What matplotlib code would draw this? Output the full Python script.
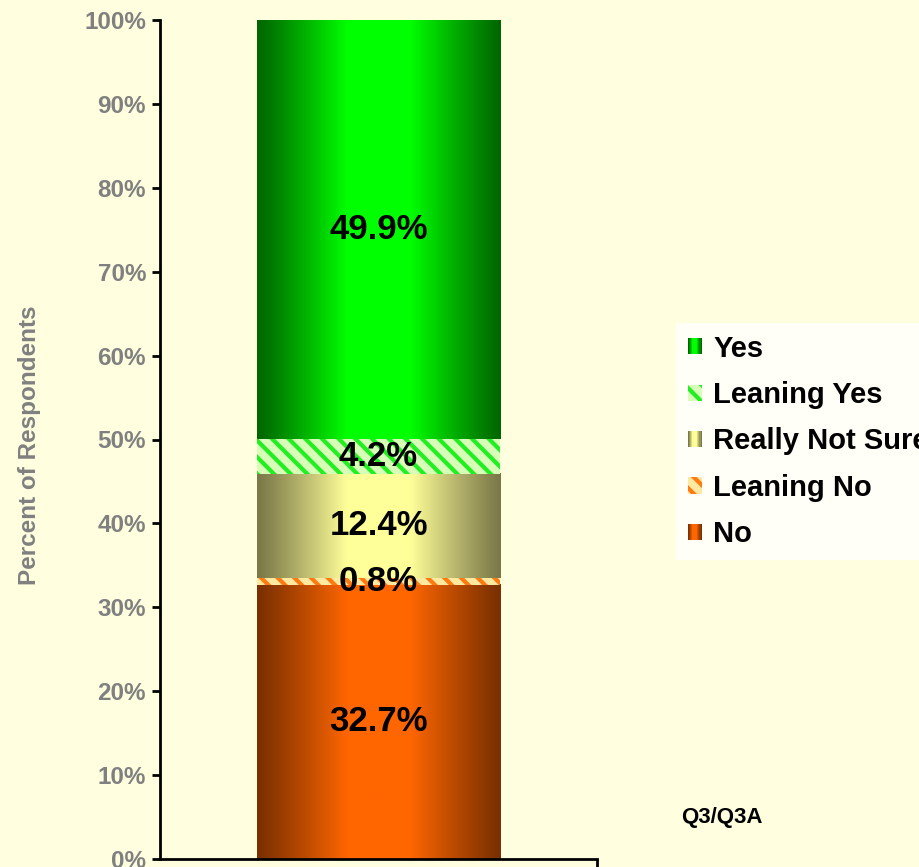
import numpy as np
import matplotlib
matplotlib.use("Agg")
import matplotlib.pyplot as plt
from matplotlib.patches import Patch, Rectangle
from matplotlib.legend_handler import HandlerBase
from matplotlib.colors import to_rgb

# data (bottom to top)
labels = ["No", "Leaning No", "Really Not Sure", "Leaning Yes", "Yes"]
values = [32.7, 0.8, 12.4, 4.2, 49.9]
value_text = ["32.7%", "0.8%", "12.4%", "4.2%", "49.9%"]
yticks = [0, 10, 20, 30, 40, 50, 60, 70, 80, 90, 100]

bg = "#FFFFDF"
grey = "#808080"
# (edge colour, centre colour) for gradient segments, (face, stripe) for hatched ones
styles = {
    "No": ("grad", "#7A3000", "#FF6600"),
    "Leaning No": ("hatch", "#FFE9A0", "#FF7A10"),
    "Really Not Sure": ("grad", "#7A7848", "#FFFF99"),
    "Leaning Yes": ("hatch", "#D8FFB8", "#22EE22"),
    "Yes": ("grad", "#006600", "#00FF00"),
}

plt.rcParams["font.family"] = ["Liberation Sans", "DejaVu Sans"]
plt.rcParams["font.weight"] = "bold"
plt.rcParams["hatch.linewidth"] = 3.0

fig = plt.figure(figsize=(9.19, 8.67), dpi=100, facecolor=bg)
ax = fig.add_axes([160 / 919, 8 / 867, 437 / 919, 839 / 867], facecolor=bg)

bar_w = 0.558
x0 = 0.0

def gradient(edge, centre, n=256):
    t = np.linspace(0, 1, n)
    f = 1 - np.abs(2 * t - 1)
    f = np.clip(f * 1.35, 0, 1) ** 1.1
    e = np.array(to_rgb(edge))
    c = np.array(to_rgb(centre))
    return (e[None, :] * (1 - f[:, None]) + c[None, :] * f[:, None])[None, :, :]

bottom = 0.0
for lab, v, txt in zip(labels, values, value_text):
    kind, a, b = styles[lab]
    if kind == "grad":
        ax.imshow(gradient(a, b), extent=(x0 - bar_w / 2, x0 + bar_w / 2, bottom, bottom + v),
                  aspect="auto", interpolation="bilinear", zorder=2)
    else:
        ax.bar(x0, v, width=bar_w, bottom=bottom, color=a, edgecolor=b,
               hatch="\\\\", linewidth=0, zorder=2)
    ax.text(x0, bottom + v / 2, txt, ha="center", va="center", fontsize=25,
            fontweight="bold", color="black", zorder=5)
    bottom += v

ax.set_xlim(-0.5, 0.5)
ax.set_ylim(0, 100)
ax.set_yticks(yticks)
ax.set_yticklabels([f"{t}%" for t in yticks], color=grey, fontsize=17.5, fontweight="bold")
ax.set_xticks([0.5])
ax.set_xticklabels([""])
ax.tick_params(axis="y", direction="out", length=6, width=2, pad=4)
ax.tick_params(axis="x", direction="out", length=8, width=2)
for s in ["top", "right"]:
    ax.spines[s].set_visible(False)
for s in ["left", "bottom"]:
    ax.spines[s].set_linewidth(2)

fig.text(30 / 919, 1 - 445 / 867, "Percent of Respondents", rotation=90, ha="center",
         va="center", color=grey, fontsize=17.5, fontweight="bold")
fig.text(722 / 919, 1 - 818 / 867, "Q3/Q3A", ha="center", va="center",
         fontsize=16, fontweight="bold", color="black")


class GradHandler(HandlerBase):
    def __init__(self, cols):
        super().__init__()
        self.cols = cols

    def create_artists(self, legend, orig_handle, xdescent, ydescent, width, height,
                       fontsize, trans):
        n = len(self.cols)
        return [Rectangle((-xdescent + i * width / n, -ydescent), width / n + 0.3, height,
                          facecolor=c, edgecolor="none", transform=trans)
                for i, c in enumerate(self.cols)]


handles = []
hmap = {}
for lab in labels[::-1]:
    kind, a, b = styles[lab]
    if kind == "grad":
        h = Patch(facecolor=b, edgecolor="none", label=lab)
        hmap[h] = GradHandler(gradient(a, b, 12)[0])
    else:
        h = Patch(facecolor=a, edgecolor=b, hatch="\\\\", linewidth=0, label=lab)
    handles.append(h)
leg = fig.legend(handles=handles, handler_map=hmap, loc="upper left",
                 bbox_to_anchor=(676 / 919, 1 - 323 / 867),
                 frameon=True, fancybox=False, facecolor="white", edgecolor="none",
                 prop={"size": 21, "weight": "bold"}, handlelength=0.48, handleheight=0.48,
                 handletextpad=0.4, labelspacing=0.63, borderpad=0.4, borderaxespad=0)
leg.get_frame().set_linewidth(0)

fig.savefig("out.png", dpi=100, facecolor=bg)
